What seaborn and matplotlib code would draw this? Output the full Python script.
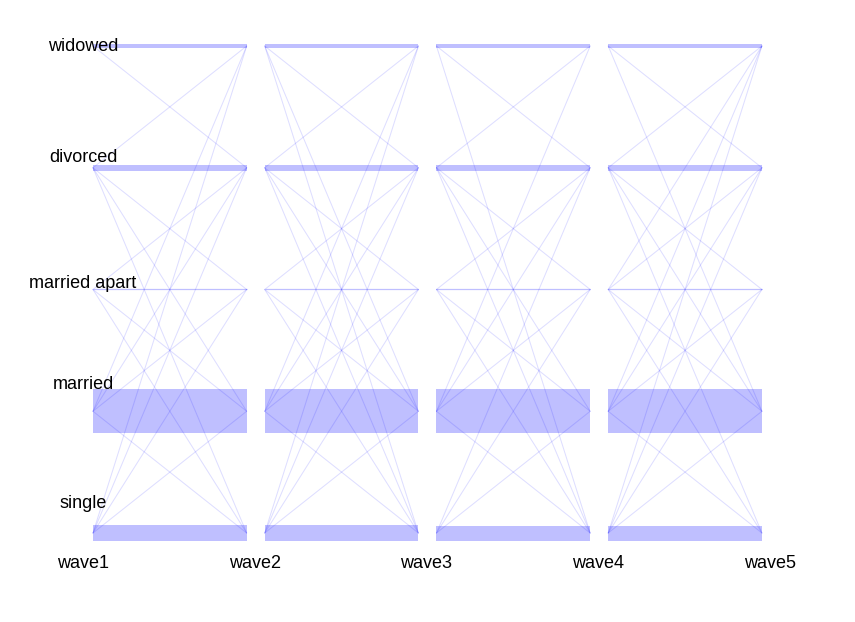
import numpy as np
import pandas as pd
import seaborn as sns
import matplotlib
matplotlib.use("Agg")
import matplotlib.pyplot as plt

# Data #

states = ["single", "married", "married apart", "divorced", "widowed"]
waves = ["wave1", "wave2", "wave3", "wave4", "wave5"]

# people who stay in the same state between two waves (one list per wave pair)
stay_counts = [
    [16, 44, 1, 6, 3],
    [16, 44, 1, 6, 3],
    [15, 44, 1, 6, 3],
    [15, 44, 1, 6, 3],
]

# (from state, to state) moves between two waves, index into states
moves_1 = [(4, 3), (3, 4), (3, 2), (3, 1), (3, 0), (2, 3), (2, 1), (2, 0),
           (1, 4), (1, 3), (1, 2), (1, 0), (0, 4), (0, 3), (0, 2), (0, 1)]
moves_2 = [(4, 3), (4, 1), (4, 0), (3, 4), (3, 2), (3, 1), (3, 0), (2, 3),
           (2, 1), (2, 0), (1, 4), (1, 3), (1, 2), (1, 0), (0, 4), (0, 3),
           (0, 2), (0, 1)]
moves_3 = [(4, 3), (4, 0), (3, 4), (3, 2), (3, 1), (3, 0), (2, 3), (2, 1),
           (2, 0), (1, 4), (1, 3), (1, 2), (1, 0), (0, 3), (0, 2), (0, 1)]
moves_4 = [(4, 3), (4, 1), (3, 4), (3, 2), (3, 1), (3, 0), (2, 4), (2, 3),
           (2, 1), (2, 0), (1, 4), (1, 3), (1, 2), (1, 0), (0, 4), (0, 3),
           (0, 2), (0, 1)]
moves = [moves_1, moves_2, moves_3, moves_4]

# label offset above each state's level (in pixels)
label_offset = [29, 27, 6, 10, -1]


# Layout #

W, H = 855, 622
XLIM = (1 - 83 / 171.75, 1 + (W - 83) / 171.75)
YLIM = (1 - (H - 533) / 121.75, 5 + 46 / 121.75)
PX_Y = H / (YLIM[1] - YLIM[0])
GAP_L, GAP_R = 0.058, 0.047

BAND = (0, 0, 1, 0.25)
LINE = "blue"


def segment(t):
    """Left/right x of the segment between wave t and t+1."""
    return t + GAP_L, t + 1 - GAP_R


# Main #

sns.set_theme(style="white")
plt.rcParams["font.family"] = ["Liberation Sans", "DejaVu Sans"]

fig = plt.figure(figsize=(W / 100, H / 100), dpi=100)
ax = fig.add_axes([0, 0, 1, 1])

rows = []
uid = 0
for t in range(len(waves) - 1):
    left, right = segment(t + 1)
    for s, n in enumerate(stay_counts[t]):
        if n <= 2:
            # too thin for a filled band, draw it as a line
            ax.plot([left, right], [s + 1, s + 1], color=BAND,
                    linewidth=n * 0.9, solid_capstyle="butt", zorder=1)
        else:
            ax.fill_between([left, right], s + 1 - n / 2 / PX_Y,
                            s + 1 + n / 2 / PX_Y,
                            color=BAND, linewidth=0, zorder=1)
    for a, b in moves[t]:
        rows.append({"id": uid, "x": left, "y": a + 1})
        rows.append({"id": uid, "x": right, "y": b + 1})
        uid += 1

df = pd.DataFrame(rows)
sns.lineplot(data=df, x="x", y="y", units="id", estimator=None, color=LINE,
             alpha=0.13, linewidth=0.75, ax=ax, zorder=2)

for s, name in enumerate(states):
    y = s + 1 + label_offset[s] / PX_Y
    ax.text(1, y, name, ha="center", va="center", fontsize=13, color="black")

for t, w in enumerate(waves):
    ax.text(t + 1, 1 - 31 / PX_Y, w, ha="center", va="center", fontsize=13,
            color="black")

ax.set_xlim(*XLIM)
ax.set_ylim(*YLIM)
ax.axis("off")

fig.savefig("out.png", dpi=100, facecolor="white")
